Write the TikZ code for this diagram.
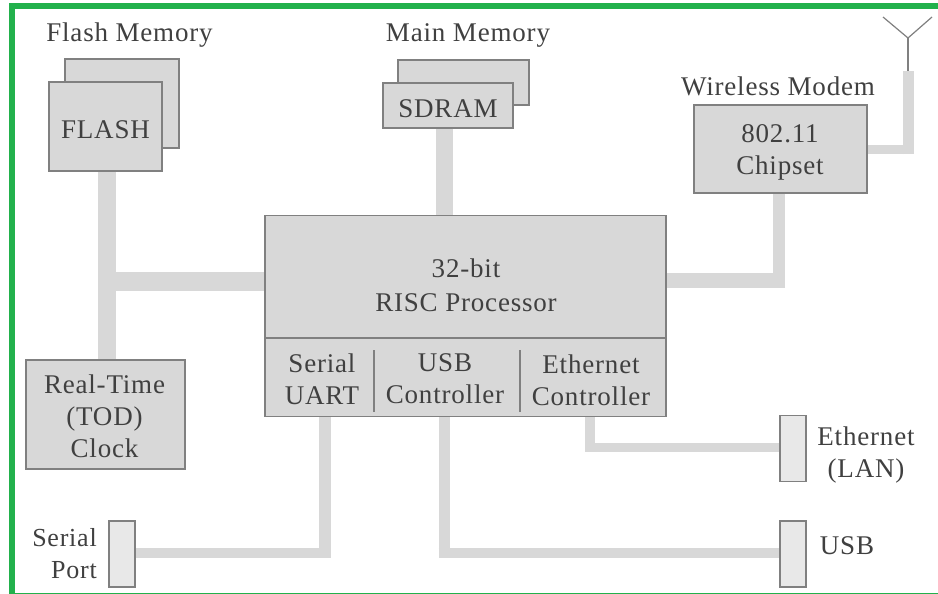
\documentclass[tikz,border=0pt]{standalone}
\usepackage{fontspec}
\setmainfont[LetterSpace=3]{Liberation Serif}
\definecolor{boxfill}{HTML}{D8D8D8}
\definecolor{boxline}{HTML}{808080}
\definecolor{busc}{HTML}{D8D8D8}
\definecolor{portfill}{HTML}{E8E8E8}
\definecolor{frameg}{HTML}{22B14C}
\definecolor{txt}{HTML}{404040}
\tikzset{
  blk/.style={draw=boxline,fill=boxfill,line width=1.8pt,inner sep=0pt,align=center,text=txt,font=\fontsize{27}{32}\selectfont},
  port/.style={draw=boxline,fill=portfill,line width=1.2pt,minimum width=26pt,minimum height=66pt,inner sep=0pt},
  lab/.style={text=txt,align=center,inner sep=0pt,font=\fontsize{27}{32}\selectfont},
  divider/.style={draw=boxline,line width=1.4pt},
  ant/.style={draw=boxline,line width=1.2pt},
  bus/.style={draw=busc,line join=miter}
}
\begin{document}
\begin{tikzpicture}[x=1pt,y=-1pt]
\useasboundingbox (0,0) rectangle (938,594);
\fill[white] (0,0) rectangle (938,594);
% frame
\draw[frameg,line width=5.8pt] (12,594) -- (12,5.8) -- (938,5.8);
\draw[frameg,line width=1.2pt] (12,593.2) -- (938,593.2);
% boxes
\node[blk,minimum width=114pt,minimum height=89pt] (flashback) at (122,103.5) {};
\node[blk,minimum width=113pt,minimum height=89pt] (flash) at (105.5,126.5) {};
\node[lab] (flashtxt) at (105.5,129.5) {FLASH};
\node[blk,minimum width=131pt,minimum height=45pt] (sdramback) at (463.5,82.5) {};
\node[blk,minimum width=130pt,minimum height=45pt] (sdram) at (448,105.5) {};
\node[lab] (sdramtxt) at (448,108.5) {SDRAM};
\node[blk,minimum width=173pt,minimum height=88pt] (modem) at (780.5,149) {};
\node[lab] (modemlab) at (780,152) {802.11\\Chipset};
\node[blk,minimum width=159pt,minimum height=109pt] (clock) at (105.5,414.5) {};
\node[lab] (clocklab) at (104.5,416.5) {Real-Time\\(TOD)\\Clock};
\node[blk,minimum width=401pt,minimum height=201pt] (cpu) at (465.7,316) {};
\node[lab] (cpulab) at (466,285) {32-bit\\[2pt]RISC Processor};
\node[lab] (uart) at (322,379) {Serial\\UART};
\node[lab] (usbc) at (445,379) {USB\\Controller};
\node[lab] (ethc) at (591,380) {Ethernet\\Controller};
\coordinate (d1t) at (374,350); \coordinate (d1b) at (374,412);
\coordinate (d2t) at (520,350); \coordinate (d2b) at (520,412);
\draw[boxline,line width=1.8pt] (cpu.west |- 0,338) -- (cpu.east |- 0,338);
\draw[divider] (d1t) -- (d1b);
\draw[divider] (d2t) -- (d2b);
% ports
\node[port] (serport) at (122,554) {};
\node[port] (usbport) at (793,554) {};
\node[port] (ethport) at (793,448.5) {};
% labels
\node[lab,align=right,anchor=east,font=\fontsize{26}{32}\selectfont] (serlab) at (97,554) {Serial\\Port};
\node[lab] (usblab) at (847,546) {USB};
\node[lab] (ethlab) at (866,455) {Ethernet\\(LAN)};
\node[lab] (flashlab) at (129.5,35) {Flash Memory};
\node[lab] (mainlab) at (468,35) {Main Memory};
\node[lab] (wirelab) at (778,86) {Wireless Modem};
% antenna
\coordinate (antbase) at (908,71);
\coordinate (anttop) at (908,38);
\coordinate (antL) at (883,17);
\coordinate (antR) at (932,17);
\draw[ant] (antL) -- (anttop) -- (antR);
\draw[ant] (anttop) -- (antbase);
% buses
\coordinate (flashx) at (107,0);
\draw[bus,line width=18pt] (flash.south -| flashx) -- (clock.north -| flashx);
\coordinate (flashj) at (116,281.5);
\draw[bus,line width=19pt] (flashj) -- (flashj -| cpu.west);
\coordinate (sdramx) at (444.5,0);
\draw[bus,line width=17pt] (sdram.south -| sdramx) -- (cpu.north -| sdramx);
\coordinate (modemj) at (779,280.5);
\draw[bus,line width=12pt] (modem.south -| modemj) -- ([yshift=-7.5pt]modemj);
\draw[bus,line width=15pt] ([xshift=6pt]modemj) -- (modemj -| cpu.east);
\coordinate (antj) at (908.5,149.5);
\draw[bus,line width=9pt] (modem.east |- antj) -- ([xshift=5.5pt]antj);
\draw[bus,line width=11pt] ([yshift=-4.5pt]antj) -- (antj |- antbase);
\coordinate (uartj) at (324.5,553);
\draw[bus,line width=12pt] (uartj |- cpu.south) -- ([yshift=-5pt]uartj);
\draw[bus,line width=10pt] ([xshift=6pt]uartj) -- (uartj -| serport.east);
\coordinate (usbj) at (444,553);
\draw[bus,line width=11pt] (usbj |- cpu.south) -- ([yshift=-5pt]usbj);
\draw[bus,line width=10pt] ([xshift=-5.5pt]usbj) -- (usbj -| usbport.west);
\coordinate (ethj) at (590,447.5);
\draw[bus,line width=10pt] (ethj |- cpu.south) -- ([yshift=-4.5pt]ethj);
\draw[bus,line width=9pt] ([xshift=-5pt]ethj) -- (ethj -| ethport.west);
\end{tikzpicture}
\end{document}
